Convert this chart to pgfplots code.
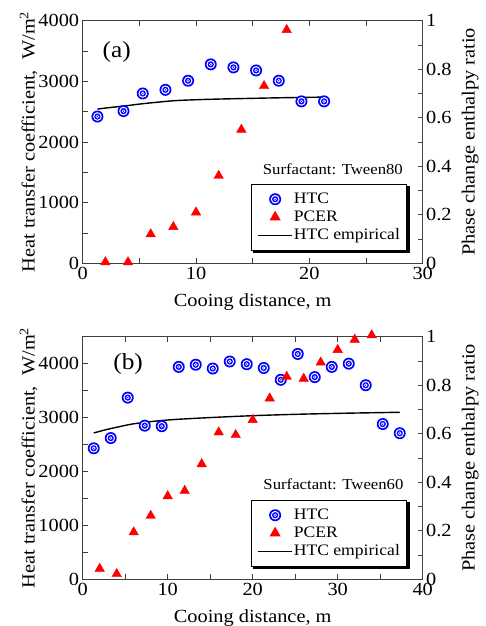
\documentclass[border=0pt]{standalone}
\usepackage{fontspec}
\setmainfont{Liberation Serif}[FakeStretch=1.1]
\usepackage{pgfplots}
\pgfplotsset{compat=1.18}

% blue bullseye marker
\pgfdeclareplotmark{bullseye}{%
  \pgfsetfillcolor{blue}\pgfpathcircle{\pgfpointorigin}{\pgfplotmarksize}\pgfusepathqfill
  \pgfsetfillcolor{white}\pgfpathcircle{\pgfpointorigin}{0.72\pgfplotmarksize}\pgfusepathqfill
  \pgfsetfillcolor{blue}\pgfpathcircle{\pgfpointorigin}{0.52\pgfplotmarksize}\pgfusepathqfill
  \pgfsetfillcolor{white}\pgfpathcircle{\pgfpointorigin}{0.3\pgfplotmarksize}\pgfusepathqfill
  \pgfsetfillcolor{blue}\pgfpathcircle{\pgfpointorigin}{0.12\pgfplotmarksize}\pgfusepathqfill
}

\pgfplotsset{
  htc/.style={only marks, mark=bullseye, mark size=6pt},
  pcer/.style={only marks, mark=triangle*, mark size=5.5pt, color=red},
  emp/.style={black, line width=1.4pt, smooth, mark=none},
  base/.style={
    scale only axis, width=340pt, height=242.6pt,
    anchor=south west, clip=false,
    axis line style={black!75, line width=0.9pt},
    tick style={black!75, line width=0.9pt},
    major tick length=5pt, minor tick length=5pt, tick align=inside,
    /pgf/number format/assume math mode=true,
    /pgf/number format/1000 sep={},
    scaled ticks=false,
    every axis x label/.style={at={(axis description cs:0.5,-0.158)}, anchor=center},
  },
  left/.style={
    base, ytick pos=left, minor x tick num=1, minor y tick num=1,
    every axis y label/.style={at={(axis description cs:-0.159,0.5)}, rotate=90, anchor=center},
    ylabel={Heat transfer coefficient,\ \ W/m\textsuperscript{2}},
    xlabel={Cooing distance, m},
  },
  right/.style={
    base, axis x line=none, axis y line*=right,
    ymin=0, ymax=1, ytick={0,0.2,0.4,0.6,0.8,1}, minor y tick num=1,
    every axis y label/.style={at={(axis description cs:1.14,0.5)}, rotate=90, anchor=center},
    ylabel={Phase change enthalpy ratio},
    legend style={at={(0.955,0.328)}, anchor=north east,
      draw=black, line width=1pt, fill=white,
      inner xsep=6pt, inner ysep=6pt,
      font=\fontsize{16}{18}\selectfont,
      nodes={inner sep=1pt, text height=12pt, text depth=4pt},
    },
    legend cell align=left,
    legend image code/.code={\draw[mark repeat=2,mark phase=2,#1] plot coordinates {(0pt,0pt) (17pt,0pt) (34pt,0pt)};},
  },
}

% black shadow strips to the right of and below a legend box
\newcommand{\legshadow}[1]{%
  \fill[black] ([yshift=-2.5pt]#1.north east) rectangle ([xshift=2.5pt,yshift=-2.5pt]#1.south east);
  \fill[black] ([xshift=2.5pt]#1.south west) rectangle ([xshift=2.5pt,yshift=-2.5pt]#1.south east);
}

\begin{document}
\begin{tikzpicture}[font=\fontsize{18.5}{20}\selectfont]
\path[use as bounding box] (-82.7pt,-362.7pt) rectangle (403.3pt,263.3pt);

% ---------- panel (a) ----------
\begin{axis}[left, at={(0pt,0pt)},
  xmin=0, xmax=30, ymin=0, ymax=4000,
  xtick={0,10,20,30}, ytick={0,1000,2000,3000,4000}]
  \addplot[htc] coordinates {
    (1.3,2420) (3.6,2510) (5.3,2800) (7.3,2860) (9.3,3010) (11.3,3280)
    (13.3,3230) (15.3,3180) (17.3,3010) (19.3,2670) (21.3,2670)
  };
  \addplot[emp] coordinates {
    (1.3,2542) (2,2560) (3,2580) (3.6,2592) (5,2625) (6,2645) (8,2680)
    (10,2697) (12,2708) (14,2716) (16,2724) (18,2731) (20,2737) (21.3,2740)
  };
  \node[font=\fontsize{23}{24}\selectfont] at (axis cs:3,3490) {(a)};
  \node[font=\fontsize{15.2}{17}\selectfont] at (axis cs:22.07,1553) {Surfactant: Tween80};
\end{axis}
\begin{axis}[right, at={(0pt,0pt)}, xmin=0, xmax=30, legend style={name=lega}]
  \addlegendimage{htc}\addlegendentry{HTC}
  \addplot[pcer] coordinates {
    (2,0.005) (4,0.005) (6,0.12) (8,0.15) (10,0.21) (12,0.361)
    (14,0.551) (16,0.731) (18,0.962)
  };
  \addlegendentry{PCER}
  \addlegendimage{emp}\addlegendentry{HTC empirical}
\end{axis}
\legshadow{lega}

% ---------- panel (b) ----------
\begin{axis}[left, at={(0pt,-316pt)},
  xmin=0, xmax=40, ymin=0, ymax=4500,
  xtick={0,10,20,30,40}, ytick={0,1000,2000,3000,4000}]
  \addplot[htc] coordinates {
    (1.3,2430) (3.3,2620) (5.3,3370) (7.3,2850) (9.3,2840) (11.3,3940)
    (13.3,3980) (15.3,3910) (17.3,4040) (19.3,3990) (21.3,3920) (23.3,3700)
    (25.3,4180) (27.3,3750) (29.3,3940) (31.3,4000) (33.3,3600) (35.3,2880)
    (37.3,2710)
  };
  \addplot[emp] coordinates {
    (1.3,2715) (2,2745) (3,2785) (4,2820) (5,2855) (6,2885) (7,2905) (8,2925)
    (10,2955) (12,2975) (15,3000) (20,3035) (25,3060) (30,3078) (35,3092) (37.3,3098)
  };
  \node[font=\fontsize{23}{24}\selectfont] at (axis cs:5.35,3990) {(b)};
  \node[font=\fontsize{15.2}{17}\selectfont] at (axis cs:29.5,1765) {Surfactant: Tween60};
\end{axis}
\begin{axis}[right, at={(0pt,-316pt)}, xmin=0, xmax=40, legend style={name=legb}]
  \addlegendimage{htc}\addlegendentry{HTC}
  \addplot[pcer] coordinates {
    (2,0.044) (4,0.022) (6,0.194) (8,0.262) (10,0.343) (12,0.365) (14,0.475)
    (16,0.606) (18,0.595) (20,0.657) (22,0.746) (24,0.835) (26,0.827)
    (28,0.894) (30,0.946) (32,0.988) (34,1.006)
  };
  \addlegendentry{PCER}
  \addlegendimage{emp}\addlegendentry{HTC empirical}
\end{axis}
\legshadow{legb}
\end{tikzpicture}
\end{document}
